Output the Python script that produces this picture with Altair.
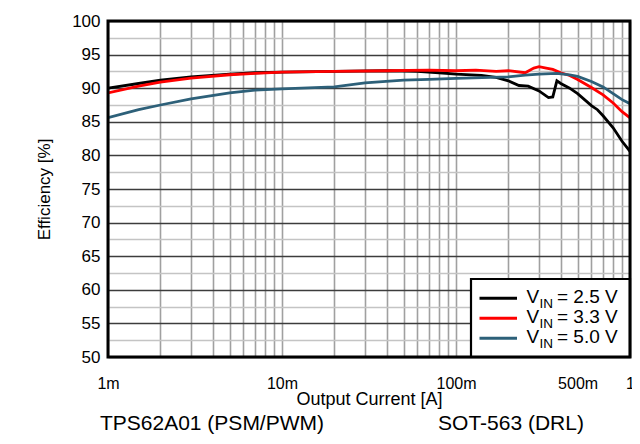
import altair as alt
import pandas as pd

# ---- data ----
cur_25 = [0.001, 0.0015, 0.002, 0.003, 0.005, 0.007, 0.01, 0.02, 0.04, 0.06, 0.08, 0.1,
          0.14, 0.17, 0.2, 0.23, 0.26, 0.3, 0.34, 0.36, 0.38, 0.4, 0.45, 0.5, 0.6, 0.65,
          0.7, 0.8, 0.9, 1.0]
eff_25 = [90.0, 90.7, 91.2, 91.7, 92.1, 92.3, 92.4, 92.5, 92.6, 92.5, 92.3, 92.1,
          91.9, 91.6, 91.1, 90.4, 90.3, 89.6, 88.6, 88.7, 91.1, 90.7, 90.0, 89.2, 87.4, 86.8,
          85.9, 84.1, 82.1, 80.6]

cur_33 = [0.001, 0.0015, 0.002, 0.003, 0.005, 0.007, 0.01, 0.02, 0.04, 0.07, 0.1, 0.13,
          0.17, 0.2, 0.25, 0.28, 0.3, 0.33, 0.36, 0.4, 0.45, 0.5, 0.6, 0.7, 0.8, 0.9, 1.0]
eff_33 = [89.3, 90.3, 90.9, 91.5, 92.0, 92.2, 92.4, 92.5, 92.6, 92.7, 92.6, 92.7,
          92.5, 92.6, 92.3, 93.0, 93.2, 93.0, 92.8, 92.3, 91.9, 91.3, 90.1, 89.0, 87.8, 86.5, 85.6]

cur_50 = [0.001, 0.0015, 0.002, 0.003, 0.005, 0.007, 0.01, 0.02, 0.03, 0.05, 0.07, 0.1,
          0.2, 0.25, 0.3, 0.38, 0.45, 0.5, 0.6, 0.7, 0.8, 0.9, 1.0]
eff_50 = [85.6, 86.8, 87.5, 88.4, 89.3, 89.7, 89.9, 90.2, 90.8, 91.2, 91.3, 91.45,
          91.7, 91.95, 92.1, 92.2, 92.0, 91.75, 91.0, 90.2, 89.2, 88.3, 87.7]

vin_labels = ["2.5", "3.3", "5.0"]
vin_colors = ["#000000", "#ff0000", "#2d6079"]

x_tick_values = [0.001, 0.002, 0.003, 0.004, 0.005, 0.006, 0.007, 0.008, 0.009,
                 0.01, 0.02, 0.03, 0.04, 0.05, 0.06, 0.07, 0.08, 0.09,
                 0.1, 0.2, 0.3, 0.4, 0.5, 0.6, 0.7, 0.8, 0.9, 1.0]
x_label_values = [0.001, 0.01, 0.1, 0.5, 1.0]
x_label_texts = ["1m", "10m", "100m", "500m", "1"]
y_tick_values = [50, 52.5, 55, 57.5, 60, 62.5, 65, 67.5, 70, 72.5, 75, 77.5, 80,
                 82.5, 85, 87.5, 90, 92.5, 95, 97.5, 100]

x_title = "Output Current [A]"
y_title = "Efficiency [%]"
footer_left = "TPS62A01 (PSM/PWM)"
footer_right = "SOT-563 (DRL)"

# ---- build table ----
rows = []
for lab, cs, es in zip(vin_labels, [cur_25, cur_33, cur_50], [eff_25, eff_33, eff_50]):
    for c, e in zip(cs, es):
        rows.append({"I": c, "eff": e, "vin": lab})
df = pd.DataFrame(rows)

W, H = 522, 336
FONT = "Liberation Sans"

x_label_expr = "".join(
    f"datum.value == {v} ? '{t}' : " for v, t in zip(x_label_values, x_label_texts)
) + "''"

x_axis = alt.Axis(
    values=x_tick_values, labelExpr=x_label_expr, title=x_title,
    grid=True, gridColor="#a0a0a0", gridWidth=1.6,
    ticks=False, tickSize=0, domain=False,
    labelFontSize=16, labelPadding=18, labelOverlap=False, labelFlush=False,
    labelBound=False, labelColor="black", labelFont=FONT,
    titleFontSize=18, titleFontWeight="normal", titleFont=FONT, titleColor="black",
    titleY=47, titleBaseline="alphabetic",
)
y_axis = alt.Axis(
    values=y_tick_values, labelExpr="datum.value % 5 === 0 ? datum.label : ''",
    title=y_title, grid=True,
    gridColor={"condition": {"test": "datum.value % 5 === 0", "value": "#3c3c3c"},
               "value": "#c4c4c4"},
    gridWidth=1.6, ticks=False, tickSize=0, domain=False,
    labelFontSize=17, labelPadding=8, labelOverlap=False, labelColor="black",
    labelFont=FONT, labelBaseline="middle",
    titleFontSize=17, titleFontWeight="normal", titleFont=FONT, titleColor="black",
    titleAngle=270, titleX=-64, titleY=H / 2, titleBaseline="middle", titleAlign="center",
)

lines = alt.Chart(df).mark_line(strokeWidth=2.8, clip=True).encode(
    x=alt.X("I:Q", scale=alt.Scale(type="log", domain=[0.001, 1]), axis=x_axis),
    y=alt.Y("eff:Q", scale=alt.Scale(domain=[50, 100]), axis=y_axis),
    color=alt.Color("vin:N", scale=alt.Scale(domain=vin_labels, range=vin_colors), legend=None),
    detail="vin:N",
)

one = pd.DataFrame({"k": [0]})
layers = [lines]

# legend box (anchored to the plot's right edge)
LX = W - 159
layers.append(alt.Chart(one).mark_rect(fill="white", stroke="black", strokeWidth=2.2).encode(
    x=alt.value(LX), x2=alt.value(W), y=alt.value(258), y2=alt.value(H)))
for i, (lab, col) in enumerate(zip(vin_labels, vin_colors)):
    yy = 277.3 + 20 * i
    layers.append(alt.Chart(one).mark_rule(color=col, strokeWidth=3).encode(
        x=alt.value(LX + 8.5), x2=alt.value(LX + 46), y=alt.value(yy)))
    layers.append(alt.Chart(one).mark_text(
        text="V", align="left", baseline="alphabetic", fontSize=19, font=FONT, color="black"
    ).encode(x=alt.value(LX + 55.5), y=alt.value(282.3 + 20 * i)))
    layers.append(alt.Chart(one).mark_text(
        text="IN", align="left", baseline="alphabetic", fontSize=13.5, font=FONT, color="black"
    ).encode(x=alt.value(LX + 68.5), y=alt.value(287 + 20 * i)))
    layers.append(alt.Chart(one).mark_text(
        text=f"= {lab} V", align="left", baseline="alphabetic", fontSize=19, font=FONT, color="black"
    ).encode(x=alt.value(LX + 86), y=alt.value(282.3 + 20 * i)))

# plot frame
layers.append(alt.Chart(one).mark_rect(filled=False, stroke="black", strokeWidth=3).encode(
    x=alt.value(0), x2=alt.value(W), y=alt.value(0), y2=alt.value(H)))

# footer texts
layers.append(alt.Chart(one).mark_text(
    text=footer_left, align="center", baseline="alphabetic", fontSize=21, font=FONT, color="black"
).encode(x=alt.value(104), y=alt.value(409)))
layers.append(alt.Chart(one).mark_text(
    text=footer_right, align="center", baseline="alphabetic", fontSize=21, font=FONT, color="black"
).encode(x=alt.value(403), y=alt.value(409)))

chart = alt.layer(*layers).properties(
    width=W, height=H,
    autosize=alt.AutoSizeParams(type="none"),
    padding={"left": 100, "top": 13, "right": 2, "bottom": 77},
    background="white",
).configure_view(stroke=None)

chart.save("out.html", embed_options={"renderer": "svg", "actions": False})
